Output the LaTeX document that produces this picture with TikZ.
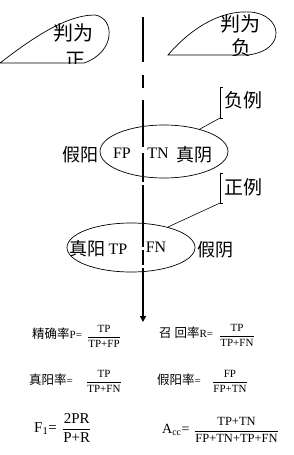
\documentclass[tikz,border=0pt]{standalone}
\usepackage{fontspec}
\usepackage{amsmath}
\setmainfont{Liberation Serif}
\newfontfamily\cjk{Noto Sans CJK SC}
\usetikzlibrary{shapes.geometric,arrows.meta}
\newcommand{\zh}[1]{{\cjk\fontsize{12.5}{14}\selectfont #1}}

\begin{document}
\begin{tikzpicture}[x=1pt,y=-1pt]
    % Node styles
    \tikzset{
      oval/.style={ellipse,draw,line width=0.7pt,inner sep=0pt},
      leaf/.style={draw,line width=0.7pt},
      divider/.style={line width=2.6pt},
      bracket/.style={line width=0.6pt},
      bigzh/.style={font=\cjk\fontsize{20}{22}\selectfont,inner sep=0pt},
      cn/.style={font=\cjk\fontsize{18}{20}\selectfont,inner sep=0pt},
      en/.style={font=\fontsize{16}{18}\selectfont,inner sep=0pt},
      flab/.style={font=\fontsize{11}{13}\selectfont,anchor=west,inner sep=0pt},
      ffrac/.style={font=\fontsize{11}{13}\selectfont,anchor=west,inner sep=0pt}
    }
    \useasboundingbox (0,0) rectangle (294,455);

    % --- Decision threshold ---
    \draw[divider] (143,17) -- (143,62);
    \draw[divider] (143,75) -- (143,88);
    \draw[divider] (143,100) -- (143,147);
    \draw[divider] (143,153) -- (143,182);
    \draw[divider] (143,185) -- (143,247);
    \draw[divider] (143,250) -- (143,265);
    \draw[divider,-{Triangle[width=6pt,length=6pt]}] (143,268) -- (143,322);

    % --- Decision regions (leaf shapes) ---
    \draw[leaf] (0,63) .. controls (30,40) and (65,15) .. (95,15)
      .. controls (115,18) and (116,52) .. (84,63) -- cycle;
    \draw[leaf] (168,55) .. controls (185,35) and (215,10) .. (250,12)
      .. controls (282,14) and (288,50) .. (248,55) -- cycle;

    % --- Leaf labels, cut at the base line ---
    \begin{scope}
      \clip (0,0) rectangle (140,63);
      \node[bigzh] (lefttop) at (73,33) {判为};
      \node[bigzh] (leftbot) at (75,60) {正};
    \end{scope}
    \begin{scope}
      \clip (150,0) rectangle (294,55);
      \node[bigzh] (righttop) at (240,24) {判为};
      \node[bigzh] (rightbot) at (241,48) {负};
    \end{scope}

    % --- Negative and positive samples ---
    \node[oval,minimum width=128,minimum height=53] (neg) at (164,151.5) {};
    \node[oval,minimum width=128,minimum height=49] (pos) at (131,247.5) {};

    % Labels of the negative ellipse
    \node[cn] (fpzh) at (80,155) {假阳};
    \node[en] (fp) at (122,153) {FP};
    \node[en] (tn) at (158,153) {TN};
    \node[cn] (tnzh) at (194,155) {真阴};

    % Labels of the positive ellipse
    \node[cn] (tpzh) at (87.5,249) {真阳};
    \node[en] (tp) at (118,249) {TP};
    \node[en] (fn) at (156,247) {FN};
    \node[cn] (fnzh) at (215,250) {假阴};

    % --- Bracket callouts ---
    \node[cn,font=\cjk\fontsize{19}{21}\selectfont] (neglab) at (243,100) {负例};
    \draw[bracket] (223,87) -- (220,87) -- (220,118) coordinate (negbr) -- (223,118);
    \draw[bracket] (negbr) -- (neg.32);

    \node[cn,font=\cjk\fontsize{19}{21}\selectfont] (poslab) at (243,187) {正例};
    \draw[bracket] (223,173) -- (220,173) -- (220,203) coordinate (posbr) -- (223,203);
    \draw[bracket] (posbr) -- (pos.29);

    % --- Formulas ---
    \node[flab] (prec) at (32,334) {\zh{精确率}P=};
    \node[ffrac] (precf) at (87,336) {$\dfrac{\text{TP}}{\text{TP+FP}}$};

    \node[flab] (rec) at (159,333) {\zh{召 回率}R=};
    \node[ffrac] (recf) at (219,335) {$\dfrac{\text{TP}}{\text{TP+FN}}$};

    \node[flab] (tpr) at (29,380) {\zh{真阳率}=};
    \node[ffrac] (tprf) at (86,381) {$\dfrac{\text{TP}}{\text{TP+FN}}$};

    \node[flab] (fpr) at (157,380) {\zh{假阳率}=};
    \node[ffrac] (fprf) at (212,381) {$\dfrac{\text{FP}}{\text{FP+TN}}$};

    \node[flab,font=\fontsize{15}{17}\selectfont] (fone) at (34,429) {F\textsubscript{1}=};
    \node[ffrac,font=\fontsize{15}{17}\selectfont] (fonef) at (62,428) {$\dfrac{\text{2PR}}{\text{P+R}}$};

    \node[flab,font=\fontsize{14}{16}\selectfont] (acc) at (162,430) {A\textsubscript{cc}=};
    \node[ffrac,font=\fontsize{12.5}{14}\selectfont] (accf) at (194,430) {$\dfrac{\text{TP+TN}}{\text{FP+TN+TP+FN}}$};

  \end{tikzpicture}
\end{document}
